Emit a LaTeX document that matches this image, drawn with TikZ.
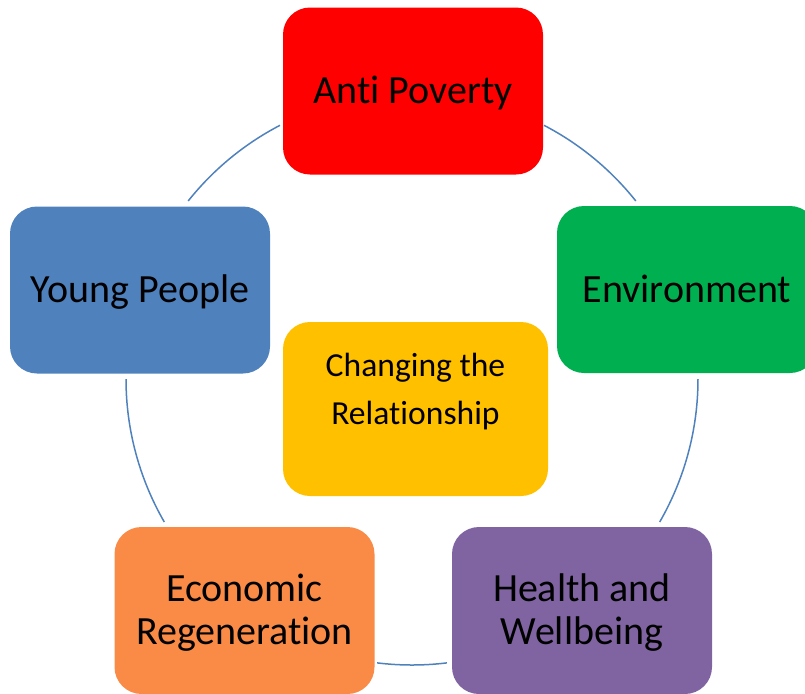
\documentclass[tikz,border=0pt]{standalone}
\usepackage{fontspec}
\setmainfont{Carlito}[Ligatures=NoCommon]
\definecolor{apred}{HTML}{FF0000}
\definecolor{envgreen}{HTML}{00B050}
\definecolor{hwpurple}{HTML}{8064A2}
\definecolor{ecorange}{HTML}{F98B46}
\definecolor{ypblue}{HTML}{4F81BD}
\definecolor{chyellow}{HTML}{FFC000}
\definecolor{ringblue}{HTML}{4F81BD}
\tikzset{
  box/.style={rounded corners=13.5pt, minimum width=130pt, minimum height=83.5pt,
    inner sep=0pt, align=center, text height=12.9pt, text depth=0pt,
    font=\fontsize{20}{21.5}\selectfont},
  twoline/.style={text height=34.4pt},
  ring/.style={draw=ringblue, line width=0.75pt}
}
\begin{document}
\begin{tikzpicture}[x=0.5pt,y=0.5pt]
\useasboundingbox (0,0) rectangle (805,-693);
\coordinate (O) at (412,-379);

\foreach \a/\b in {62.5/38.5, 0/-30, -83/-97, 210/180, 141.5/117.5}
  \draw[ring] ([shift={(\a:286)}]O) arc[start angle=\a, end angle=\b, radius=143pt];

\node[box, fill=apred] (ap) at (413,-91) {Anti Poverty};
\node[box, fill=envgreen] (env) at (687,-289.5) {Environment};
\node[box, twoline, fill=hwpurple] (hw) at (582,-610.5) {Health and\\Wellbeing};
\node[box, twoline, fill=ecorange] (eco) at (244.5,-610.5) {Economic\\Regeneration};
\node[box, fill=ypblue] (yp) at (140,-290) {Young People};

\node[box, fill=chyellow, minimum width=132.5pt, minimum height=87pt] (ch) at (415.5,-409) {};
\node[font=\fontsize{16.8}{24}\selectfont, align=center, inner sep=0pt,
  text height=34.8pt, text depth=0pt] (chtext) at (415.5,-390) {Changing the\\Relationship};
\end{tikzpicture}
\end{document}
